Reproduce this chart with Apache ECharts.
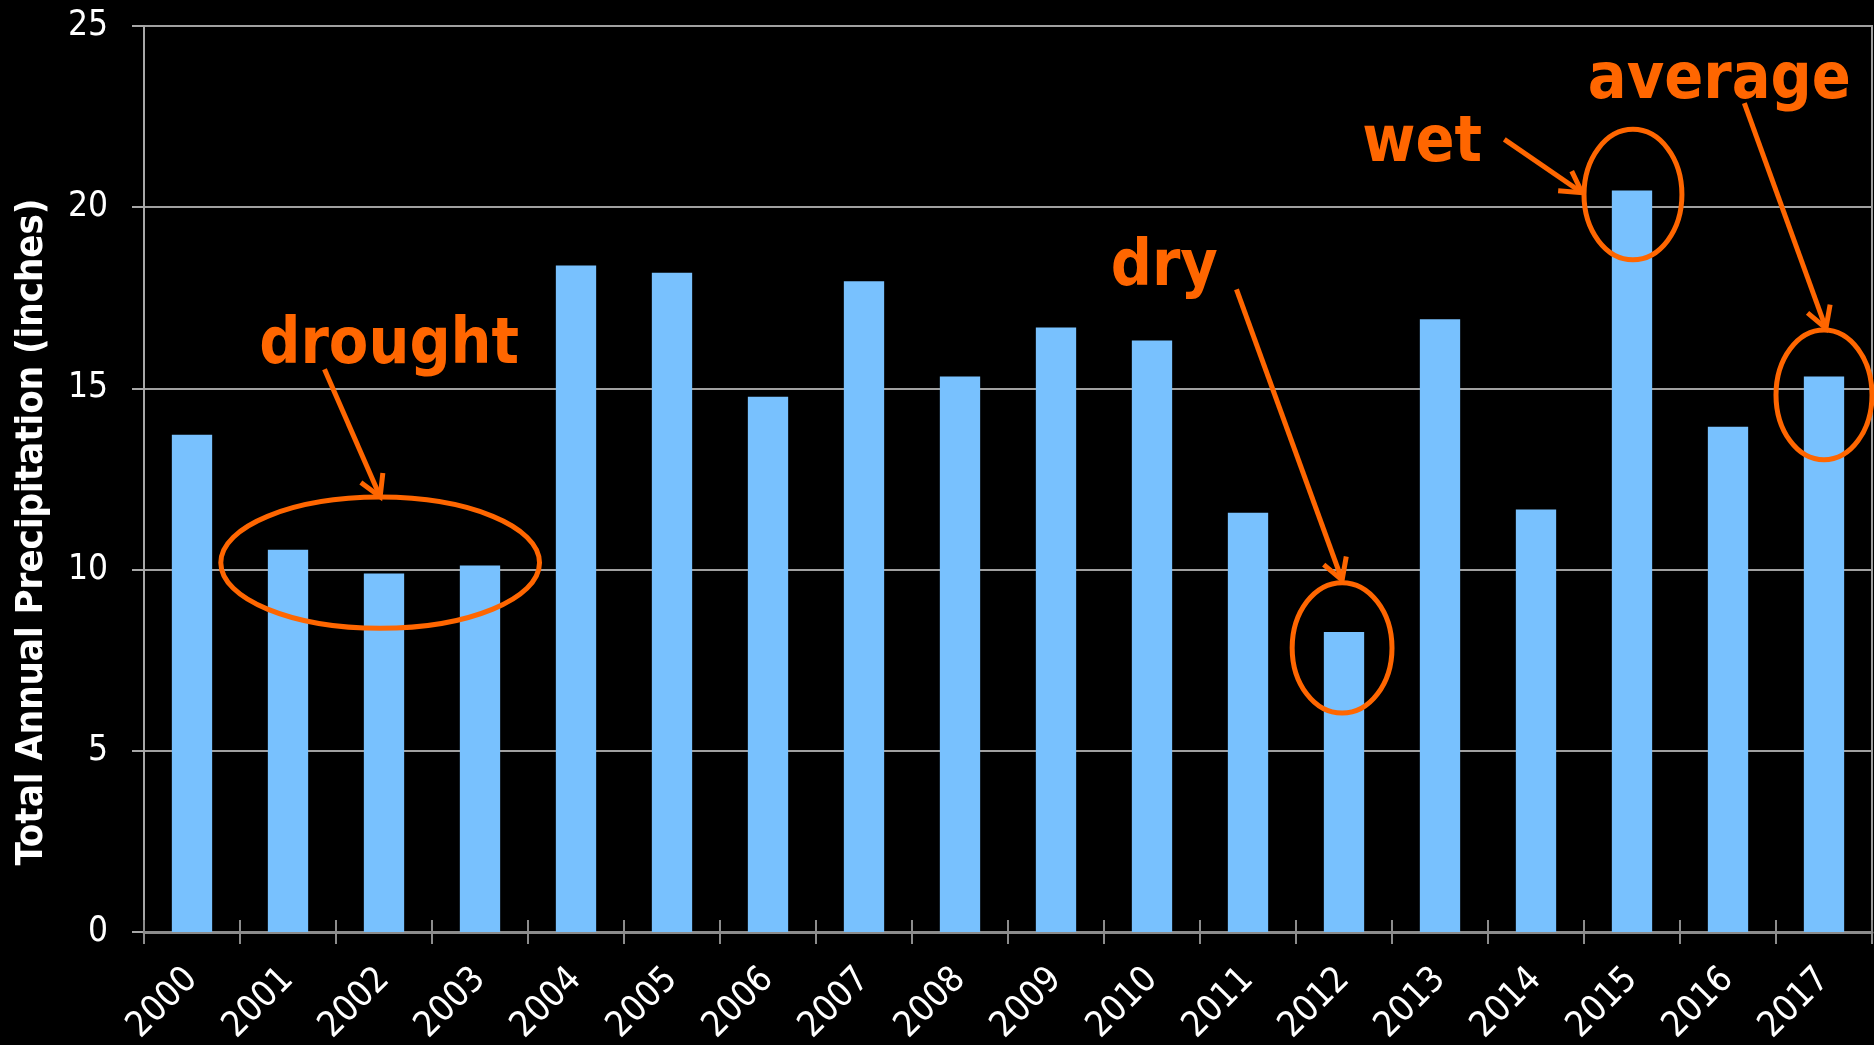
<!DOCTYPE html>
<html>
<head>
<meta charset="utf-8">
<script src="https://cdn.jsdelivr.net/npm/echarts@6/dist/echarts.min.js"></script>
<style>
  html, body { margin: 0; padding: 0; background: #000; }
  #chart { width: 1874px; height: 1045px; }
</style>
</head>
<body>
<div id="chart"></div>
<script>
// annual totals
const years = ['2000', '2001', '2002', '2003', '2004', '2005', '2006', '2007', '2008',
               '2009', '2010', '2011', '2012', '2013', '2014', '2015', '2016', '2017'];
const precip = [13.72, 10.55, 9.89, 10.11, 18.39, 18.19, 14.77, 17.96, 15.33,
                16.68, 16.32, 11.57, 8.28, 16.91, 11.66, 20.46, 13.94, 15.33];
const yTicks = [0, 5, 10, 15, 20, 25];

// callouts, in data units (x = category index, y = inches)
const noteText = ['drought', 'dry', 'wet', 'average'];
const noteTextAt = [[0.70, 15.74], [9.57, 17.90], [12.19, 21.33], [14.54, 23.05]];
const noteArrowFrom = [[1.38, 15.53], [10.88, 17.73], [13.67, 21.87], [16.17, 22.87]];
const noteArrowTo = [[1.96, 12.01], [11.98, 9.71], [14.48, 20.40], [17.02, 16.66]];
const noteRing = [[1.96, 10.19, 1.66, 1.81], [11.98, 7.84, 0.52, 1.80],
                  [15.01, 20.35, 0.51, 1.80], [17.00, 14.82, 0.50, 1.79]];

const orange = '#FF6600';
const tickFont = '"DejaVu Sans Condensed", "DejaVu Sans", sans-serif';

function renderNote(params, api) {
    const i = params.dataIndex;
    const ring = noteRing[i];
    const c = api.coord([ring[0], ring[1]]);
    const e = api.coord([ring[0] + ring[2], ring[1] + ring[3]]);
    const a = api.coord(noteArrowFrom[i]);
    const b = api.coord(noteArrowTo[i]);
    const len = Math.hypot(b[0] - a[0], b[1] - a[1]);
    const bx = -(b[0] - a[0]) / len, by = -(b[1] - a[1]) / len;
    const head = 24, ang = 30 * Math.PI / 180;
    const wing = (s) => [
        b[0] + head * (bx * Math.cos(s * ang) - by * Math.sin(s * ang)),
        b[1] + head * (bx * Math.sin(s * ang) + by * Math.cos(s * ang))
    ];
    const t = api.coord(noteTextAt[i]);
    const line = { stroke: orange, lineWidth: 5, fill: 'none' };
    return {
        type: 'group',
        children: [
            { type: 'ellipse', shape: { cx: c[0], cy: c[1], rx: Math.abs(e[0] - c[0]), ry: Math.abs(e[1] - c[1]) }, style: line },
            { type: 'line', shape: { x1: a[0], y1: a[1], x2: b[0], y2: b[1] }, style: line },
            { type: 'polyline', shape: { points: [wing(1), b, wing(-1)] }, style: line },
            {
                type: 'text',
                style: {
                    text: noteText[i], x: t[0], y: t[1] - 15, fill: orange,
                    font: 'bold 64px "DejaVu Sans Condensed", "DejaVu Sans", sans-serif',
                    align: 'left', verticalAlign: 'middle'
                }
            }
        ]
    };
}

const chart = echarts.init(document.getElementById('chart'));
chart.setOption({
    backgroundColor: '#000',
    animation: false,
    grid: {
        left: 144, right: 2, top: 26, bottom: 113,
        outerBoundsMode: 'none',
        containLabel: false,
        show: true, borderColor: '#a0a0a0', borderWidth: 2
    },
    xAxis: [
        {
            type: 'category',
            data: years,
            position: 'bottom',
            axisLine: { onZero: false, lineStyle: { color: '#8c8c8c', width: 3 } },
            axisTick: { show: true, length: 12, lineStyle: { color: '#8c8c8c', width: 2 } },
            axisLabel: { interval: 0, rotate: 45, margin: 42, color: '#fff', fontSize: 36, fontFamily: tickFont },
            splitLine: { show: false }
        },
        { type: 'value', min: -0.5, max: years.length - 0.5, show: false },
        {
            type: 'category',
            data: years,
            position: 'bottom',
            axisLine: { show: false, onZero: false },
            axisTick: { show: true, inside: true, length: 12, lineStyle: { color: '#8c8c8c', width: 2 } },
            axisLabel: { show: false },
            splitLine: { show: false }
        }
    ],
    yAxis: {
        type: 'value',
        min: yTicks[0],
        max: yTicks[yTicks.length - 1],
        interval: yTicks[1] - yTicks[0],
        name: 'Total Annual Precipitation (inches)',
        nameLocation: 'middle',
        nameRotate: 90,
        nameGap: 93,
        nameTextStyle: {
            color: '#fff', fontSize: 38, fontWeight: 'bold', fontFamily: tickFont,
            padding: [0, 106, 0, 0]
        },
        axisLine: { show: true, onZero: false, lineStyle: { color: '#a8a8a8', width: 2 } },
        axisTick: { show: true, length: 12, lineStyle: { color: '#a8a8a8', width: 2 } },
        axisLabel: { color: '#fff', fontSize: 35, fontFamily: tickFont, margin: 36 },
        splitLine: { lineStyle: { color: '#a0a0a0', width: 2 } }
    },
    series: [
        {
            type: 'bar',
            data: precip,
            barWidth: '42%',
            itemStyle: { color: '#78C1FE' }
        },
        {
            type: 'custom',
            xAxisIndex: 1,
            yAxisIndex: 0,
            silent: true,
            clip: false,
            z: 5,
            data: noteText.map((n, i) => i),
            renderItem: renderNote
        }
    ]
});
</script>
</body>
</html>
